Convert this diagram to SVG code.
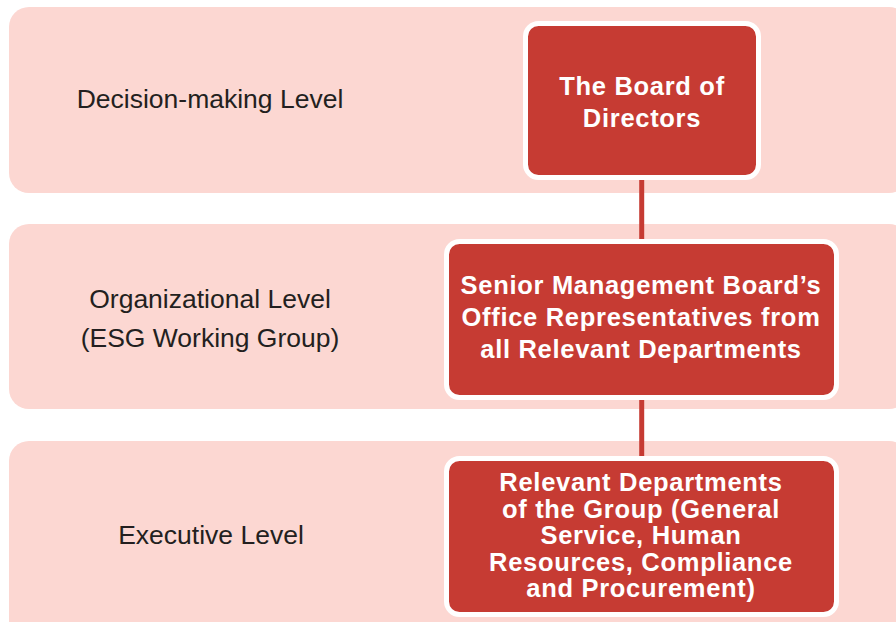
<svg xmlns="http://www.w3.org/2000/svg" width="896" height="622" viewBox="0 0 896 622">
  <style>
    .band { fill: #FCD7D2; }
    .level { font-family: "Liberation Sans", Arial, Helvetica, sans-serif; font-size: 26.5px; fill: #231F20; text-anchor: middle; }
    .box { fill: #C63B33; stroke: #FFFFFF; stroke-width: 5; }
    .boxtext { font-family: "Liberation Sans", Arial, Helvetica, sans-serif; font-size: 25.5px; font-weight: bold; fill: #FFFFFF; text-anchor: middle; letter-spacing: 0.7px; }
    .link { stroke: #C63B33; stroke-width: 5; fill: none; }
  </style>

  <rect width="896" height="622" fill="#FFFFFF"/>

  <!-- level bands -->
  <g id="band-decision">
    <rect class="band" x="9" y="7" width="900" height="186" rx="20"/>
    <text class="level" x="210" y="108">Decision-making Level</text>
  </g>
  <g id="band-organizational">
    <rect class="band" x="9" y="224" width="900" height="185" rx="20"/>
    <text class="level" x="210" y="308">Organizational Level</text>
    <text class="level" x="210" y="347">(ESG Working Group)</text>
  </g>
  <g id="band-executive">
    <rect class="band" x="9" y="441" width="900" height="200" rx="20"/>
    <text class="level" x="211" y="544">Executive Level</text>
  </g>

  <!-- connectors -->
  <g id="connectors">
    <line class="link" x1="641.7" y1="178" x2="641.7" y2="242"/>
    <line class="link" x1="641.7" y1="398" x2="641.7" y2="459"/>
  </g>

  <!-- nodes -->
  <g id="board">
    <rect class="box" x="525.5" y="23.5" width="233" height="154" rx="13"/>
    <text class="boxtext" x="642" y="95">The Board of</text>
    <text class="boxtext" x="642" y="127">Directors</text>
  </g>
  <g id="senior-management">
    <rect class="box" x="446.5" y="241.5" width="390" height="156" rx="13"/>
    <text class="boxtext" x="641" y="294">Senior Management Board’s</text>
    <text class="boxtext" x="641" y="326">Office Representatives from</text>
    <text class="boxtext" x="641" y="358">all Relevant Departments</text>
  </g>
  <g id="departments">
    <rect class="box" x="446.5" y="458.5" width="390" height="156" rx="13"/>
    <text class="boxtext" x="641" y="491">Relevant Departments</text>
    <text class="boxtext" x="641" y="517.5">of the Group (General</text>
    <text class="boxtext" x="641" y="544">Service, Human</text>
    <text class="boxtext" x="641" y="570.5">Resources, Compliance</text>
    <text class="boxtext" x="641" y="597">and Procurement)</text>
  </g>
</svg>
